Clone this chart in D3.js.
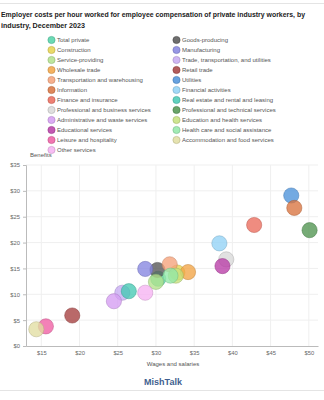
<!DOCTYPE html>
<html><head><meta charset="utf-8">
<script src="https://cdn.jsdelivr.net/npm/d3@7"></script>
<style>
html,body{margin:0;padding:0;background:#fff;}
svg{display:block;font-family:"Liberation Sans",Arial,sans-serif;}
</style></head>
<body><svg id="c" width="324" height="400"></svg>
<script>
const industries = ["Total private","Goods-producing","Construction","Manufacturing","Service-providing","Trade, transportation, and utilities","Wholesale trade","Retail trade","Transportation and warehousing","Utilities","Information","Financial activities","Finance and insurance","Real estate and rental and leasing","Professional and business services","Professional and technical services","Administrative and waste services","Education and health services","Educational services","Health care and social assistance","Leisure and hospitality","Accommodation and food services","Other services"];
const wages =    [30.3, 30.2, 32.8, 28.6, 30.0, 25.6, 34.2, 19.05, 31.8, 47.7, 48.1, 38.3, 42.85, 26.45, 39.2, 50.1, 24.5, 32.6, 38.7, 31.9, 15.6, 14.35, 28.6];
const benefits = [13.0, 14.7, 14.2, 14.9, 12.4, 10.3, 14.3, 5.9, 15.8, 29.1, 26.7, 19.85, 23.4, 10.6, 16.75, 22.4, 8.66, 13.6, 15.45, 13.6, 3.8, 3.24, 10.3];
const colors = ["#52d3a8","#555555","#e6d34f","#8585e0","#b3e28c","#c7aaf2","#f2a445","#a53f3f","#f5a27a","#4c92da","#d9733f","#92d2f6","#eb6b5c","#45c9b4","#d9d9d9","#4f944f","#d59cf2","#c5e07c","#b83ca6","#92e8a8","#ef5ea3","#e2dea2","#f6b2f2"];
const xTicks = [15,20,25,30,35,40,45,50];
const yTicks = [0,5,10,15,20,25,30,35];

const svg = d3.select("#c");
const x = d3.scaleLinear().domain([13, 51.2]).range([26, 318]);
const y = d3.scaleLinear().domain([0, 35]).range([346, 165]);

// frame lines
svg.append("line").attr("x1",0).attr("x2",324).attr("y1",3.5).attr("y2",3.5).attr("stroke","#e4e4e4");
svg.append("line").attr("x1",0).attr("x2",324).attr("y1",390.5).attr("y2",390.5).attr("stroke","#e4e4e4");

// title (two separate lines)
const titleLines = ["Employer costs per hour worked for employee compensation of private industry workers, by","industry, December 2023"];
const titleWidths = [304, 84];
titleLines.forEach((t,i)=>{
  svg.append("text").attr("x",1).attr("y",17+i*11)
    .attr("font-weight","bold").attr("font-size",7.3).attr("fill","#222")
    .attr("font-family","'Liberation Sans Narrow','Arial Narrow',sans-serif")
    .attr("textLength",titleWidths[i]).attr("lengthAdjust","spacingAndGlyphs")
    .text(t);
});

// legend (row-major, 2 columns)
const leg = svg.append("g");
industries.forEach((name,i)=>{
  const col = i % 2, row = Math.floor(i/2);
  const lx = col===0 ? 51.5 : 176.5, ly = 40 + row*10;
  leg.append("circle").attr("cx",lx).attr("cy",ly).attr("r",3.6)
    .attr("fill",colors[i]).attr("fill-opacity",0.85)
    .attr("stroke",d3.color(colors[i]).darker(0.6)).attr("stroke-width",0.6);
  leg.append("text").attr("x",lx+5.5).attr("y",ly+2.1).attr("font-size",6).attr("fill","#555").text(name);
});

// grid
svg.append("g").selectAll("line").data(xTicks).join("line")
  .attr("x1",d=>x(d)).attr("x2",d=>x(d)).attr("y1",165).attr("y2",346)
  .attr("stroke","#efefef");
svg.append("g").selectAll("line").data(yTicks.filter(d=>d>0)).join("line")
  .attr("x1",26).attr("x2",318).attr("y1",d=>y(d)).attr("y2",d=>y(d))
  .attr("stroke","#efefef");

// axes
const yAxis = svg.append("g").attr("transform","translate(26,0)")
  .call(d3.axisLeft(y).tickValues(yTicks).tickFormat(d=>"$"+d).tickSize(3).tickPadding(3));
const xAxis = svg.append("g").attr("transform","translate(0,346)")
  .call(d3.axisBottom(x).tickValues(xTicks).tickFormat(d=>"$"+d).tickSize(0).tickPadding(5));
[yAxis,xAxis].forEach(a=>{
  a.select(".domain").attr("stroke","#bbb");
  a.selectAll(".tick line").attr("stroke","#bbb");
  a.selectAll("text").attr("font-size",5.8).attr("fill","#666").attr("font-family","Liberation Sans, Arial, sans-serif");
});

svg.append("text").attr("x",30).attr("y",157).attr("font-size",6).attr("fill","#555").text("Benefits");
svg.append("text").attr("x",173).attr("y",366).attr("text-anchor","middle").attr("font-size",6).attr("fill","#555").text("Wages and salaries");
svg.append("text").attr("x",163).attr("y",385).attr("text-anchor","middle").attr("font-size",9).attr("font-weight","bold").attr("fill","#3f5f8f").text("MishTalk");

// bubbles
svg.append("g").selectAll("circle").data(industries.map((n,i)=>i)).join("circle")
  .attr("cx",i=>x(wages[i])).attr("cy",i=>y(benefits[i])).attr("r",7.6)
  .attr("fill",i=>colors[i]).attr("fill-opacity",0.78)
  .attr("stroke",i=>d3.color(colors[i]).darker(0.7)).attr("stroke-opacity",0.6).attr("stroke-width",0.8);
</script></body></html>
